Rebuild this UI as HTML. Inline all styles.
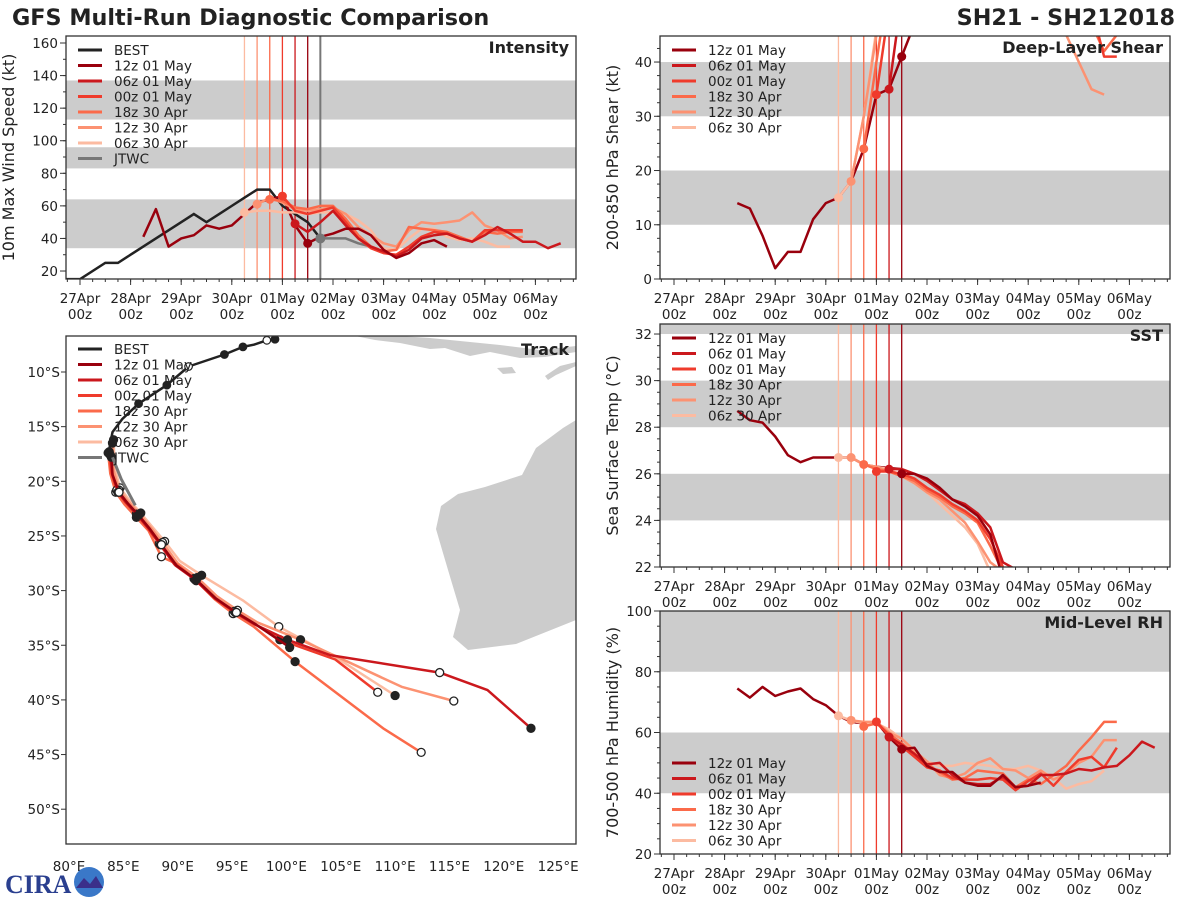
<!DOCTYPE html>
<html><head><meta charset="utf-8"><style>
html,body{margin:0;padding:0;background:#fff;}
svg{display:block;font-family:"DejaVu Sans","Liberation Sans",sans-serif;}
</style></head><body>
<svg id="fig" width="1200" height="900" viewBox="0 0 1200 900" xmlns="http://www.w3.org/2000/svg">
<text x="12" y="25" font-size="22.3" font-weight="bold" fill="#222">GFS Multi-Run Diagnostic Comparison</text>
<text x="1175" y="25" font-size="22.3" font-weight="bold" fill="#222" text-anchor="end">SH21 - SH212018</text>
<g id="cira">
<text x="5" y="893" font-size="26" font-weight="bold" fill="#2a3f8f" font-family="Liberation Serif,serif">CIRA</text>
<circle cx="89" cy="882" r="15" fill="#3a78c8"/>
<path d="M76 888 L84 878 L90 884 L96 876 L103 888 Z" fill="#3b2f8a"/>
</g>
</svg>
<script>
// ===== data =====
const runNames = ["12z 01 May","06z 01 May","00z 01 May","18z 30 Apr","12z 30 Apr","06z 30 Apr"];
const runColors = ["#99000d","#cb181d","#ef3b2c","#fb6a4a","#fc9272","#fcbba1"];
const runStart = [4.5,4.25,4.0,3.75,3.5,3.25];
const dayLabels = ["27Apr","28Apr","29Apr","30Apr","01May","02May","03May","04May","05May","06May"];

// Intensity (kt)
const bestDays = [-0.3,0,0.5,0.75,1,1.25,1.5,1.75,2,2.25,2.5,2.75,3,3.25,3.5,3.75,4,4.25,4.5,4.75];
const bestVmax = [15,15,25,25,30,35,40,45,50,55,50,55,60,65,70,70,60,55,50,40];
const jtwcStart = 4.75;
const jtwcVmax = [40,40,40,37,35];
const histStart = 1.25;
const intHist = [41,58,35,40,42,48,46,48,55,62,64,66,48,37];
const int12z01 = [37,41,43,46,46,42,33,28,31,37,39,35];
const int06z01 = [49,44,50,57,48,40,35,32,29,33,40,42,43,40,38,42,47,43,38,38,34,37];
const int00z01 = [66,57,55,57,59,50,40,34,31,30,35,41,44,43,40,38,45,45,45,45];
const int18z30 = [64,63,59,58,60,60,52,42,35,32,33,47,46,45,44,41,38,44,43,44,44];
const int12z30 = [61,65,62,58,57,58,59,55,47,42,37,35,45,50,49,50,51,56,48,45,40,41];
const int06z30 = [56,57,57,56,56,55,56,56,55,51,45,34,33,40,46,46,41,39,40,38,35,35];

// Shear (kt)
const shrHist = [14,13,8,2,5,5,11,14,15,18,24,34,35,41];
const shr12z01 = [41,47];
const shr06z01 = [35,52,70];
const shr00z01 = [34,50,65,70,70,70,70,70,70,70,70,70,70,70,70,70,70,50,41,41];
const shr18z30 = [24,40,55,70,70,70,70,70,70,70,70,70,70,70,70,70,70,50,47,42,45];
const shr12z30 = [18,30,45,60,70,70,70,70,70,70,70,70,70,70,70,70,50,45,40,35,34];
const shr06z30 = [15,18,30,46,60];

// SST (C)
const sstHist = [28.7,28.3,28.2,27.6,26.8,26.5,26.7,26.7,26.7,26.7,26.4,26.3,26.25,26.2];
const sst12z01 = [26.0,26.0,25.8,25.4,24.9,24.6,24.2,23.4,21.5];
const sst06z01 = [26.2,26.2,26.0,25.7,25.3,24.9,24.7,24.3,23.7,22.2,21.9];
const sst00z01 = [26.1,26.1,26.0,25.8,25.4,25.1,24.7,24.4,24.0,23.2,22.0];
const sst18z30 = [26.4,26.2,26.1,25.9,25.7,25.3,25.0,24.6,24.3,23.9,22.9,21.8];
const sst12z30 = [26.7,26.4,26.3,26.1,25.9,25.6,25.2,24.9,24.4,23.9,23.1,22.2,21.8];
const sst06z30 = [26.7,26.7,26.4,26.3,26.2,25.9,25.6,25.2,24.7,24.2,23.7,23.0,21.8];

// RH (%)
const rhHist = [74.5,71.5,75,72,73.5,74.5,71,69,65.5,63.5,63,63.5,58.5,54.5];
const rh12z01 = [54.5,55,49,47,47,43.5,42.5,42.5,46,42,42.5,43.5];
const rh06z01 = [58.5,56,53,49.5,50,46,43.5,43,43,45.5,42,42.5,46,46,46.5,48,47.5,48.5,49,52.5,57,55];
const rh00z01 = [63.5,59,55.5,52,48.5,47.5,45,44.5,44.5,45,44.5,41,44,46.5,42.5,47,51,52,48.5,55];
const rh18z30 = [62,63,59.5,56.5,53,49.5,47,44.5,45,47.5,47,46.5,42,44.5,43,46,49,54,58.5,63.5,63.5];
const rh12z30 = [64,63.5,63.5,60,58,54,50.5,46,45,46.5,50,51.5,48,47.5,45,47.5,44.5,46.5,50,52,57.5,57.5];
const rh06z30 = [65.5,64,63,63,61,58,54,50.5,49,49,50,49.5,49,48,48,49,47.5,45,41.5,43,44,47.5];

// Track (lon E, lat S)
const bestLon = [98.95,98.2,97.0,96.0,94.3,91.0,89.0,86.4,84.9,84.0,83.9,83.7,83.9];
const bestLat = [7.0,7.1,7.5,7.7,8.4,9.5,11.2,12.9,14.3,15.5,16.0,17.1,17.8];
const jtwcLon = [84.0,84.8,86.1];
const jtwcLat = [17.8,19.8,22.2];
const trk12z01Lon = [83.9,84.0,84.6,85.4,86.4,87.4,88.5,89.9,91.7,93.5,95.4,97.2,100.3];
const trk12z01Lat = [17.8,19.4,21.0,22.0,23.1,24.3,25.8,27.7,29.0,30.7,32.0,33.1,35.2];
const trk06z01Lon = [83.8,84.0,84.5,85.3,86.3,87.3,88.4,89.8,91.6,93.4,95.3,97.1,100.1,104.0,114.1,118.5,122.5];
const trk06z01Lat = [17.6,19.4,21.0,22.0,23.1,24.3,25.8,27.7,29.0,30.7,32.0,33.1,34.5,35.9,37.5,39.1,42.6];
const trk00z01Lon = [83.7,83.9,84.4,85.2,86.2,87.2,88.3,89.7,91.5,93.3,95.2,97.0,99.4,104.5,108.4];
const trk00z01Lat = [17.3,19.2,20.8,21.9,23.0,24.2,25.7,27.6,28.9,30.6,31.9,33.0,34.5,36.3,39.3];
const trk18z30Lon = [83.6,83.8,84.3,85.1,86.2,87.3,88.5,90.0,91.7,93.4,95.1,97.0,100.8,108.9,112.4];
const trk18z30Lat = [17.4,19.3,21.0,22.1,23.3,24.5,26.9,27.6,29.1,30.8,32.1,33.3,36.5,42.6,44.8];
const trk12z30Lon = [84.0,84.1,84.6,85.5,86.5,87.5,88.6,90.0,91.8,93.6,95.5,97.3,101.3,110.6,115.4];
const trk12z30Lat = [16.5,19.0,20.8,21.9,23.0,24.2,25.6,27.5,28.8,30.5,31.8,32.9,34.5,38.8,40.1];
const trk06z30Lon = [84.1,84.2,84.7,85.6,86.6,87.6,88.8,90.2,92.2,96.0,99.3,104.7,110.0];
const trk06z30Lat = [16.2,18.8,20.6,21.8,22.9,24.1,25.5,27.3,28.6,30.9,33.3,36.2,39.6];

// ===== drawing =====
const NS="http://www.w3.org/2000/svg";
const svg=document.getElementById('fig');
function el(tag,attrs,parent){const e=document.createElementNS(NS,tag);for(const k in attrs)e.setAttribute(k,attrs[k]);(parent||svg).appendChild(e);return e;}
const DAYPX=50.6;

function timePanel(cfg){
  const g=el('g',{});
  
  
  const {x0,x1,y0,y1,vmin,vmax,d0}=cfg;
  const X=d=>d0+d*DAYPX;
  const Y=v=>y1-(v-vmin)/(vmax-vmin)*(y1-y0);
  const cid='clip-'+cfg.name;
  const cp=el('clipPath',{id:cid},g);el('rect',{x:x0,y:y0,width:x1-x0,height:y1-y0},cp);
  cfg.bands.forEach(b=>{
    const r=el('rect',{x:x0,y:Y(Math.min(b[1],vmax)),width:x1-x0,height:Y(b[0])-Y(Math.min(b[1],vmax)),fill:'#cccccc'},g);
    
    
  });
  const data=el('g',{'clip-path':'url(#'+cid+')'},g);
  for(let i=runStart.length-1;i>=0;i--){
    const l=el('line',{x1:X(runStart[i]),x2:X(runStart[i]),y1:y0,y2:y1,stroke:runColors[i],'stroke-width':1.3},data);
    
    
  }
  if(cfg.extraV){
    const l=el('line',{x1:X(cfg.extraV),x2:X(cfg.extraV),y1:y0,y2:y1,stroke:'#777','stroke-width':2},data);
    
    
  }
  const line=(start,vals,color,w,name)=>{
    const pts=vals.map((v,i)=>X(start+i*0.25).toFixed(1)+','+Y(v).toFixed(1)).join(' ');
    const p=el('polyline',{points:pts,fill:'none',stroke:color,'stroke-width':w,'stroke-linejoin':'round'},data);
    
    
  };
  if(cfg.best){
    const pts=cfg.best[0].map((d,i)=>X(d)+','+Y(cfg.best[1][i])).join(' ');
    const p=el('polyline',{points:pts,fill:'none',stroke:'#222','stroke-width':2.5},data);
    
    
    line(jtwcStart,jtwcVmax,'#777',2.5,'jtwc-line');
  }
  line(histStart,cfg.hist,runColors[0],2.5,'analysis-history-line');
  for(let i=cfg.runs.length-1;i>=0;i--){
    line(runStart[i],cfg.runs[i],runColors[i],2.5,'forecast-line-'+runNames[i].replace(/ /g,'-').toLowerCase());
  }
  for(let i=cfg.runs.length-1;i>=0;i--){
    const c=el('circle',{cx:X(runStart[i]),cy:Y(cfg.runs[i][0]),r:4.5,fill:runColors[i]},data);
    
    
  }
  if(cfg.best){
    const c=el('circle',{cx:X(jtwcStart),cy:Y(jtwcVmax[0]),r:5,fill:'#777'},data);
    
    
  }
  el('rect',{x:x0,y:y0,width:x1-x0,height:y1-y0,fill:'none',stroke:'#333','stroke-width':1.3},g);
  for(let v=cfg.tick0;v<=vmax+0.001;v+=cfg.tickStep){
    el('line',{x1:x0-6,x2:x0,y1:Y(v),y2:Y(v),stroke:'#333'},g);
    const t=el('text',{x:x0-8,y:Y(v)+5,'font-size':13.5,'text-anchor':'end',fill:'#222'},g);t.textContent=v;
    
    
  }
  for(let v=cfg.tick0;v<=vmax;v+=cfg.minor){
    if(v>=vmin) el('line',{x1:x0-3,x2:x0,y1:Y(v),y2:Y(v),stroke:'#333'},g);
  }
  for(let d=0;d<10;d++){
    el('line',{x1:X(d),x2:X(d),y1:y1,y2:y1+6,stroke:'#333'},g);
    const t=el('text',{x:X(d),y:y1+24,'font-size':13.5,'text-anchor':'middle',fill:'#222'},g);t.textContent=dayLabels[d];
    
    
    const t2=el('text',{x:X(d),y:y1+40,'font-size':13.5,'text-anchor':'middle',fill:'#222'},g);t2.textContent='00z';
    
    
  }
  for(let d=-0.25;d<9.8;d+=0.25){ if(X(d)>x0&&X(d)<x1) el('line',{x1:X(d),x2:X(d),y1:y1,y2:y1+3,stroke:'#333'},g); }
  const yl=el('text',{x:0,y:0,'font-size':16,'text-anchor':'middle',fill:'#222',transform:`translate(${x0-cfg.ylOff},${(y0+y1)/2}) rotate(-90)`},g);yl.textContent=cfg.ylabel;
  
  
  const tt=el('text',{x:x1-7,y:y0+17,'font-size':16,'font-weight':'bold','text-anchor':'end',fill:'#222'},g);tt.textContent=cfg.title;
  
  
  legend(g,x0+12,cfg.legY,cfg.best);
}
function legend(g,x,y,withBest){
  const items=[];
  if(withBest) items.push(['BEST','#222']);
  runNames.forEach((n,i)=>items.push([n,runColors[i]]));
  if(withBest) items.push(['JTWC','#777']);
  const lg=el('g',{},g);
  
  
  items.forEach((it,i)=>{
    const yy=y+i*15.5;
    el('line',{x1:x,x2:x+24,y1:yy,y2:yy,stroke:it[1],'stroke-width':3},lg);
    const t=el('text',{x:x+36,y:yy+5,'font-size':13.5,fill:'#222'},lg);t.textContent=it[0];
    
    
  });
}

timePanel({name:'intensity',x0:66,x1:576,y0:36,y1:279,vmin:15.1,vmax:164.3,d0:80,tick0:20,tickStep:20,minor:10,ylOff:52,
  bands:[[34,64],[83,96],[113,137]],ylabel:'10m Max Wind Speed (kt)',title:'Intensity',legY:50,
  best:[bestDays,bestVmax],extraV:4.75,hist:intHist,runs:[int12z01,int06z01,int00z01,int18z30,int12z30,int06z30]});
timePanel({name:'shear',x0:660,x1:1170,y0:36,y1:279,vmin:0,vmax:44.8,d0:674,tick0:0,tickStep:10,minor:2.5,ylOff:42,
  bands:[[10,20],[30,40]],ylabel:'200-850 hPa Shear (kt)',title:'Deep-Layer Shear',legY:50,
  hist:shrHist,runs:[shr12z01,shr06z01,shr00z01,shr18z30,shr12z30,shr06z30]});
timePanel({name:'sst',x0:660,x1:1170,y0:324,y1:567,vmin:22,vmax:32.43,d0:674,tick0:22,tickStep:2,minor:0.5,ylOff:42,
  bands:[[24,26],[28,30],[32,33]],ylabel:'Sea Surface Temp (°C)',title:'SST',legY:338,
  hist:sstHist,runs:[sst12z01,sst06z01,sst00z01,sst18z30,sst12z30,sst06z30]});
timePanel({name:'rh',x0:660,x1:1170,y0:611,y1:854,vmin:20,vmax:100,d0:674,tick0:20,tickStep:20,minor:5,ylOff:42,
  bands:[[40,60],[80,100]],ylabel:'700-500 hPa Humidity (%)',title:'Mid-Level RH',legY:763,
  hist:rhHist,runs:[rh12z01,rh06z01,rh00z01,rh18z30,rh12z30,rh06z30]});

// track panel
(function(){
  const g=el('g',{});
  
  
  const x0=66,x1=576,y0=336,y1=844;
  const X=lon=>69+(lon-80)*10.87, Y=lat=>372+(lat-10)*10.93;
  const cp=el('clipPath',{id:'clip-trk'},g);el('rect',{x:x0,y:y0,width:x1-x0,height:y1-y0},cp);
  const d=el('g',{'clip-path':'url(#clip-trk)'},g);
  const land=el('path',{d:'M576 420 L563 428 L536 448 L522 475 L485 487 L458 494 L441 506 L436 529 L443 553 L451 580 L460 610 L453 637 L468 650 L516 644 L576 620 Z M355 336 L375 340 L400 343 L430 349 L445 348 L470 356 L490 352 L520 358 L545 357 L576 352 L576 346 L540 350 L500 345 L470 342 L430 338 L400 336 Z M497 368 L512 367 L516 373 L503 374 Z M545 376 L560 366 L576 362 L576 366 L556 375 L548 380 Z',fill:'#cccccc'},d);
  
  
  const trk=(lons,lats,color,w,name,marks)=>{
    const p=el('polyline',{points:lons.map((v,i)=>X(v).toFixed(1)+','+Y(lats[i]).toFixed(1)).join(' '),fill:'none',stroke:color,'stroke-width':w,'stroke-linejoin':'round'},d);
    
    
    if(marks){
      lons.forEach((v,i)=>{ if(i%2===0||i===lons.length-1){
        const c=el('circle',{cx:X(v),cy:Y(lats[i]),r:4,fill:(i/2)%2===0?'#222':'#fff',stroke:'#222','stroke-width':1.3},d);
        
        
      }});
    }
  };
  const tl=[[trk06z30Lon,trk06z30Lat],[trk12z30Lon,trk12z30Lat],[trk18z30Lon,trk18z30Lat],[trk00z01Lon,trk00z01Lat],[trk06z01Lon,trk06z01Lat],[trk12z01Lon,trk12z01Lat]];
  tl.forEach((t,k)=>{const i=5-k;trk(t[0],t[1],runColors[i],2.5,'track-'+runNames[i].replace(/ /g,'-').toLowerCase(),true);});
  trk(jtwcLon,jtwcLat,'#777',3,'jtwc-track',false);
  trk(bestLon,bestLat,'#222',2.5,'best-track',false);
  [0,1,3,4,5,6,7].forEach((i,k)=>{
    const c=el('circle',{cx:X(bestLon[i]),cy:Y(bestLat[i]),r:3.8,fill:k%3===1?'#fff':'#222',stroke:'#222','stroke-width':1.2},d);
    
    
  });
  el('rect',{x:x0,y:y0,width:x1-x0,height:y1-y0,fill:'none',stroke:'#333','stroke-width':1.3},g);
  for(let lat=10;lat<=50;lat+=5){
    el('line',{x1:x0-5,x2:x0,y1:Y(lat),y2:Y(lat),stroke:'#333'},g);
    const t=el('text',{x:x0-6,y:Y(lat)+5,'font-size':13.5,'text-anchor':'end',fill:'#222'},g);t.textContent=lat+'°S';
    
    
  }
  for(let lon=80;lon<=125;lon+=5){
    const t=el('text',{x:X(lon),y:871,'font-size':13.5,'text-anchor':'middle',fill:'#222'},g);t.textContent=lon+'°E';
    
    
  }
  const tt=el('text',{x:x1-7,y:y0+19,'font-size':16,'font-weight':'bold','text-anchor':'end',fill:'#222'},g);tt.textContent='Track';
  
  
  legend(g,x0+12,349,true);
})();
svg.appendChild(document.getElementById('cira'));
</script>
</body></html>
